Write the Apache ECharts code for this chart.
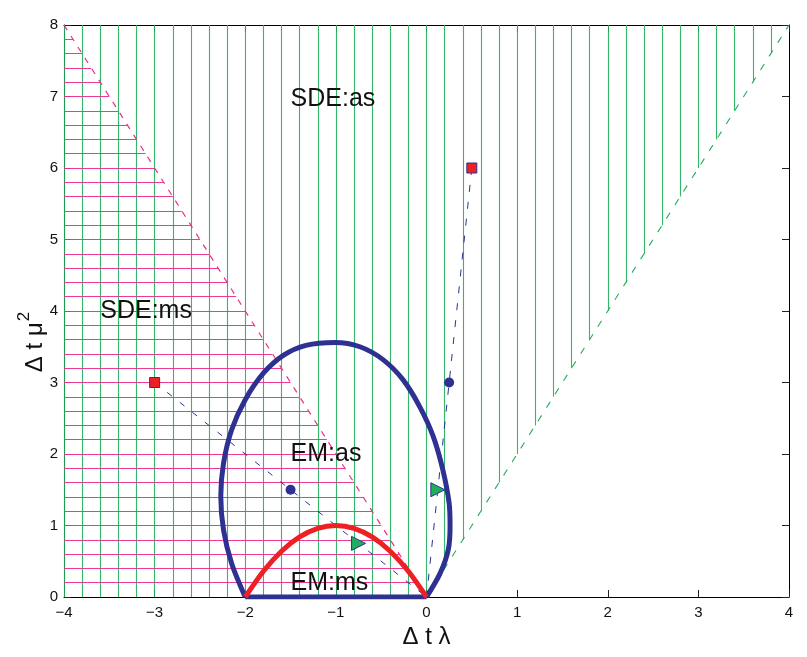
<!DOCTYPE html>
<html><head><meta charset="utf-8">
<script src="https://cdn.jsdelivr.net/npm/echarts@6/dist/echarts.min.js"></script>
<style>html,body{margin:0;padding:0;background:#fff}#c{width:807px;height:657px}</style>
</head><body><div id="c"></div>
<script>
// ---- data ----
const xRange = [-4, 4];
const yRange = [0, 8];
const xTickStep = 1;
const yTickStep = 1;
const hatchStep = 0.2;

// stability boundaries of the SDE
const sdeMsBoundary = [[-4, 8], [0, 0]];   // mean-square: y = -2x
const sdeAsBoundary = [[0, 0], [4, 8]];    // asymptotic: y = 2x

// Euler-Maruyama asymptotic stability boundary (blue)
const emAsCurve = [
  [-2.0, 0.0], [-2.15, 0.47], [-2.24, 0.94], [-2.27, 1.41], [-2.24, 1.87],
  [-2.15, 2.34], [-2.0, 2.76], [-1.80, 3.13], [-1.58, 3.38], [-1.33, 3.52],
  [-1.01, 3.56], [-0.735, 3.50], [-0.48, 3.32], [-0.26, 3.04], [-0.074, 2.66],
  [0.073, 2.25], [0.18, 1.78], [0.25, 1.31], [0.26, 0.99], [0.24, 0.66],
  [0.15, 0.33], [0.0, 0.0]
];
const emAsBase = [[0, 0], [-2, 0]];

// Euler-Maruyama mean-square stability boundary (red)
const emMsCurve = [
  [-2.0, 0.0], [-1.8, 0.36], [-1.6, 0.64], [-1.4, 0.84], [-1.2, 0.96], [-1.0, 1.0],
  [-0.8, 0.96], [-0.6, 0.84], [-0.4, 0.64], [-0.2, 0.36], [0.0, 0.0]
];

// step-size paths and markers
const pathNeg = [[-3, 3], [0, 0]];
const pathPos = [[0.5, 6], [0, 0]];
const squares = [[-3, 3], [0.5, 6]];
const circles = [[-1.5, 1.5], [0.25, 3]];
const triangles = [[-0.75, 0.75], [0.125, 1.5]];

const regionLabels = [
  ['SDE:as', -1.5, 6.96],
  ['SDE:ms', -3.6, 4.0],
  ['EM:as', -1.5, 2.0],
  ['EM:ms', -1.5, 0.2]
];

// ---- helpers ----
function yOnSeg(seg, x) {
  const [[x0, y0], [x1, y1]] = seg;
  return y0 + (x - x0) * (y1 - y0) / (x1 - x0);
}
function xOnSeg(seg, y) {
  const [[x0, y0], [x1, y1]] = seg;
  return x0 + (y - y0) * (x1 - x0) / (y1 - y0);
}
const r = v => Math.round(v * 1000) / 1000;

// hatch pattern for the SDE regions (fill pattern, derived from the boundaries)
const greenHatch = [];
const nX = Math.round((xRange[1] - xRange[0]) / hatchStep);
for (let i = 0; i < nX; i++) {
  const x = r(xRange[0] + i * hatchStep);
  const lo = x <= 0 ? yRange[0] : yOnSeg(sdeAsBoundary, x);
  greenHatch.push({ coords: [[x, lo], [x, yRange[1]]] });
}
const pinkHatch = [];
const nY = Math.round((yRange[1] - yRange[0]) / hatchStep);
for (let j = 1; j < nY; j++) {
  const y = r(yRange[0] + j * hatchStep);
  pinkHatch.push({ coords: [[xRange[0], y], [xOnSeg(sdeMsBoundary, y), y]] });
}

const BLUE = '#2e3192', RED = '#ed2024', GREEN = '#1fae5a', PINK = '#ec2f8c', TXT = '#111111';
const FONT = '"Liberation Sans", Arial, Helvetica, sans-serif';
const fmt = v => (v < 0 ? '\u2212' + Math.abs(v) : String(v));

const chart = echarts.init(document.getElementById('c'), null, { renderer: 'canvas' });
const baseAxis = {
  axisLine: { onZero: false, lineStyle: { color: '#000', width: 1 } },
  axisTick: { show: true, inside: true, length: 7, lineStyle: { color: '#222', width: 1 } },
  splitLine: { show: false }
};
chart.setOption({
  animation: false,
  backgroundColor: '#fff',
  grid: { left: 64, right: 18, top: 25, bottom: 60 },
  xAxis: [
    Object.assign({}, baseAxis, {
      type: 'value', min: xRange[0], max: xRange[1], interval: xTickStep,
      axisLabel: { formatter: fmt, color: TXT, fontSize: 15, fontFamily: FONT, margin: 8 },
      name: '\u0394 t \u03bb', nameLocation: 'middle', nameGap: 28, nameMoveOverlap: false,
      nameTextStyle: { fontSize: 24, color: TXT, fontFamily: FONT }
    }),
    Object.assign({}, baseAxis, {
      type: 'value', position: 'top', min: xRange[0], max: xRange[1], interval: xTickStep,
      axisLabel: { show: false }
    })
  ],
  yAxis: [
    Object.assign({}, baseAxis, {
      type: 'value', min: yRange[0], max: yRange[1], interval: yTickStep,
      axisLabel: { formatter: fmt, color: TXT, fontSize: 15, fontFamily: FONT, margin: 6 },
      name: '{a|\u0394 t \u03bc}{b|2}', nameLocation: 'middle', nameGap: 17, nameRotate: 90,
      nameMoveOverlap: false,
      nameTextStyle: {
        color: TXT, fontFamily: FONT, padding: [0, 62, 0, 0],
        rich: {
          a: { fontSize: 24, color: TXT, fontFamily: FONT, verticalAlign: 'bottom' },
          b: { fontSize: 17, color: TXT, fontFamily: FONT, verticalAlign: 'top', padding: [0, 0, 14, 1] }
        }
      }
    }),
    Object.assign({}, baseAxis, {
      type: 'value', position: 'right', min: yRange[0], max: yRange[1], interval: yTickStep,
      axisLabel: { show: false }
    })
  ],
  series: [
    {
      type: 'lines', coordinateSystem: 'cartesian2d', z: 1, silent: true,
      data: greenHatch, lineStyle: { color: GREEN, width: 1.1, opacity: 0.9 }
    },
    {
      type: 'lines', coordinateSystem: 'cartesian2d', z: 1, silent: true,
      data: pinkHatch, lineStyle: { color: PINK, width: 1.2, opacity: 0.95 }
    },
    {
      type: 'line', data: sdeMsBoundary, symbol: 'none', z: 2,
      lineStyle: { color: PINK, width: 1.2, type: [6, 7] }
    },
    {
      type: 'line', data: sdeAsBoundary, symbol: 'none', z: 2,
      lineStyle: { color: GREEN, width: 1.1, type: [7, 9] }
    },
    {
      type: 'line', data: pathNeg, symbol: 'none', z: 3,
      lineStyle: { color: BLUE, width: 1, type: [6, 10] }
    },
    {
      type: 'line', data: pathPos, symbol: 'none', z: 3,
      lineStyle: { color: BLUE, width: 1, type: [7, 10] }
    },
    {
      type: 'line', data: emAsCurve, symbol: 'none', smooth: 0.3, z: 4,
      lineStyle: { color: BLUE, width: 5 }
    },
    {
      type: 'line', data: emAsBase, symbol: 'none', z: 4,
      lineStyle: { color: BLUE, width: 5 }
    },
    {
      type: 'line', data: emMsCurve, symbol: 'none', smooth: 0.3, z: 5,
      lineStyle: { color: RED, width: 5 }
    },
    {
      type: 'scatter', data: squares, symbol: 'rect', symbolSize: 10, z: 6,
      itemStyle: { color: RED, borderColor: BLUE, borderWidth: 1, opacity: 1 }
    },
    {
      type: 'scatter', data: circles, symbol: 'circle', symbolSize: 10, z: 6,
      itemStyle: { color: BLUE, opacity: 1 }
    },
    {
      type: 'scatter', data: triangles, symbol: 'triangle', symbolSize: 14, symbolRotate: -90, z: 6,
      itemStyle: { color: GREEN, borderColor: BLUE, borderWidth: 1, opacity: 1 }
    },
    {
      type: 'scatter', z: 7, symbolSize: 0, silent: true,
      itemStyle: { opacity: 1 },
      data: regionLabels.map(d => ({ value: [d[1], d[2]], name: d[0] })),
      label: {
        show: true, position: 'right', distance: 0, formatter: p => p.name,
        fontSize: 25, color: TXT, fontFamily: FONT, opacity: 1
      }
    }
  ]
});
</script>
</body></html>
